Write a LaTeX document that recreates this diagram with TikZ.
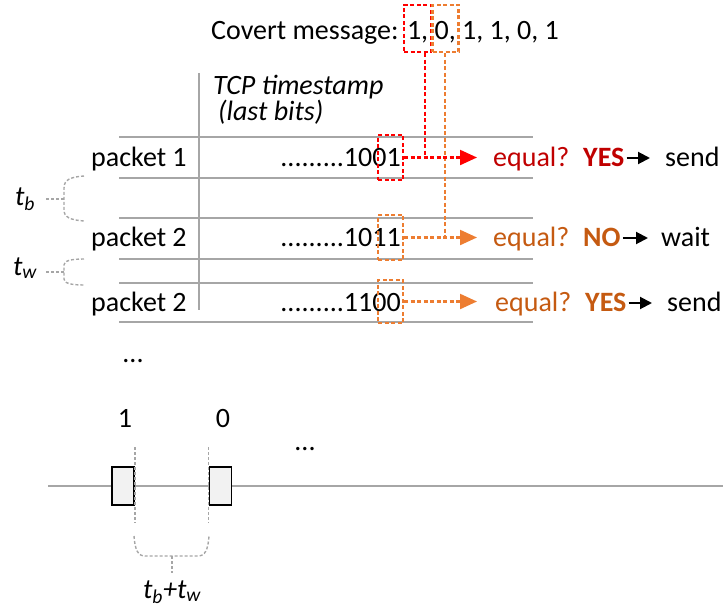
\documentclass[tikz,border=0pt]{standalone}
\usepackage{fontspec}
\setmainfont{Carlito}
\usetikzlibrary{arrows.meta}
\definecolor{bitred}{HTML}{FF0000}
\definecolor{bitorange}{HTML}{ED7D31}
\definecolor{txtred}{HTML}{C00000}
\definecolor{txtorange}{HTML}{C55A11}
\definecolor{rulegray}{HTML}{A6A6A6}
\definecolor{pktfill}{HTML}{F2F2F2}
\begin{document}
\begin{tikzpicture}[x=1pt,y=-1pt,
    txt/.style={inner sep=0pt, font=\fontsize{28}{32}\selectfont},
    rule/.style={rulegray, line width=2.2pt},
    bitbox/.style={draw, dash pattern=on 4pt off 2.5pt, line width=2.4pt, inner sep=0pt},
    bitline/.style={dash pattern=on 4pt off 2.5pt, line width=2.2pt},
    bracket/.style={rulegray, dash pattern=on 3pt off 2pt, line width=1.4pt},
    tip/.style={-{Triangle[length=17pt,width=15pt]}},
    thenarrow/.style={-{Triangle[length=12pt,width=12pt]}, line width=2pt},
    pkt/.style={draw, line width=1.8pt, fill=pktfill, minimum width=22pt, minimum height=38pt, inner sep=0pt}]
    \useasboundingbox (0,0) rectangle (723,610);

    % table rules
    \foreach \y in {137,178,218,259,283,322}
        \draw[rule] (119,\y) -- (533,\y);
    \draw[rule] (199,73) -- (199,310);

    % header
    \node[txt, anchor=base west] (msg) at (211,40) {Covert message: 1, 0, 1, 1, 0, 1};
    \node[txt, anchor=base west] (tcp) at (213,94) {\itshape TCP timestamp};
    \node[txt, anchor=base west] (last) at (218,120) {\itshape (last bits)};

    % packets
    \node[txt, anchor=base west] (pk1) at (91,166) {packet 1};
    \node[txt, anchor=base west] (pk2) at (91,246) {packet 2};
    \node[txt, anchor=base west] (pk3) at (91,311) {packet 2};
    \node[txt, anchor=base east] (ts1) at (401,166) {.........1001};
    \node[txt, anchor=base east] (ts2) at (401,246) {.........1011};
    \node[txt, anchor=base east] (ts3) at (401,311) {.........1100};

    % dashed boxes
    \node[bitbox, bitred, minimum width=27pt, minimum height=47pt] (m1) at (417.5,28.5) {};
    \node[bitbox, bitorange, minimum width=26pt, minimum height=47pt] (m0) at (445.5,28.5) {};
    \node[bitbox, bitred, minimum width=25pt, minimum height=45pt] (b1) at (390.5,157.5) {};
    \node[bitbox, bitorange, minimum width=25pt, minimum height=45pt] (b2) at (390.5,237.5) {};
    \node[bitbox, bitorange, minimum width=25pt, minimum height=43pt] (b3) at (390.5,301.5) {};

    % outcomes
    \node[txt, anchor=base west, txtred] (eq1) at (493,166) {equal?};
    \node[txt, anchor=base west, txtred] (ans1) at (583,166) {\bfseries YES};
    \node[txt, anchor=base west] (act1) at (665,166) {send};
    \node[txt, anchor=base west, txtorange] (eq2) at (493,246) {equal?};
    \node[txt, anchor=base west, txtorange] (ans2) at (583,246) {\bfseries NO};
    \node[txt, anchor=base west] (act2) at (661,246) {wait};
    \node[txt, anchor=base west, txtorange] (eq3) at (495,311) {equal?};
    \node[txt, anchor=base west, txtorange] (ans3) at (585,311) {\bfseries YES};
    \node[txt, anchor=base west] (act3) at (667,311) {send};

    % comparisons
    \coordinate (j1) at (425,158);
    \coordinate (j2) at (445,238);
    \draw[bitline, bitred] (m1.south -| j1) -- (j1);
    \draw[bitline, bitorange] (m0.south -| j2) -- (j2);
    \draw[bitline, bitred, tip] (b1.east) -- (b1.east -| 477,0);
    \draw[bitline, bitorange, tip] (b2.east) -- (b2.east -| 477,0);
    \draw[bitline, bitorange, tip] (b3.east) -- (b3.east -| 477,0);
    \draw[thenarrow] ([xshift=2pt]ans1.east |- 0,158) -- (650,158);
    \draw[thenarrow] ([xshift=2pt]ans2.east |- 0,238) -- (648,238);
    \draw[thenarrow] ([xshift=2pt]ans3.east |- 0,303) -- (652,303);

    % timing brackets
    \node[txt, anchor=base] (tb) at (25,205) {\itshape t\textsubscript{b}};
    \node[txt, anchor=base] (tw) at (25,275) {\itshape t\textsubscript{w}};
    \draw[bracket] (84,176) .. controls (70,177) and (64,180) .. (64,188) -- (64,210)
        .. controls (64,217) and (70,220) .. (84,221);
    \draw[bracket] (46,199) -- (64,199);
    \draw[bracket] (84,259) .. controls (70,259) and (64,261) .. (64,265) -- (64,279)
        .. controls (64,283) and (70,285) .. (84,285);
    \draw[bracket] (46,272) -- (64,272);

    \node[txt, anchor=base] (more1) at (133,362) {...};

    % time line
    \draw[rule] (48,486) -- (723,486);
    \node[pkt] (p1) at (123,486) {};
    \node[pkt] (p2) at (220.5,486) {};
    \node[txt, anchor=base] (lab1) at (125,427) {1};
    \node[txt, anchor=base] (lab0) at (223,427) {0};
    \node[txt, anchor=base] (more2) at (305,450) {...};
    \draw[bracket] (p1.east |- 0,447) -- (p1.east |- 0,523);
    \draw[bracket] (p2.west |- 0,447) -- (p2.west |- 0,523);
    \draw[bracket] (134,536) .. controls (135,550) and (138,556) .. (145,556) -- (198,556)
        .. controls (205,556) and (208,550) .. (209,536);
    \draw[bracket] (172,556) -- (172,573);
    \node[txt, anchor=base] (tbw) at (172,598) {\itshape t\textsubscript{b}+t\textsubscript{w}};
\end{tikzpicture}
\end{document}
